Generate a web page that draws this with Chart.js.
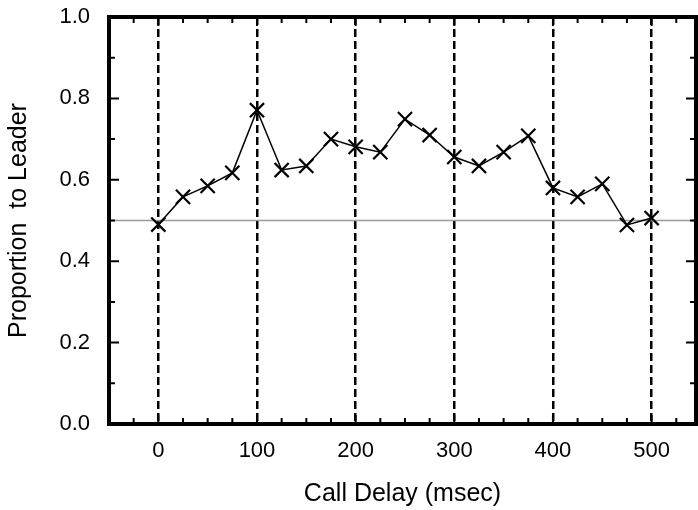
<!DOCTYPE html>
<html>
<head>
<meta charset="utf-8">
<title>Proportion to Leader vs Call Delay</title>
<script src="https://cdn.jsdelivr.net/npm/chart.js@4.4.1/dist/chart.umd.min.js"></script>
<style>
  html, body { margin: 0; padding: 0; background: #fff; overflow: hidden; }
  #wrap { width: 698px; height: 510px; position: relative; }
  #chart { display: block; }
</style>
</head>
<body>
<div id="wrap"><canvas id="chart" width="698" height="510"></canvas></div>
<script>
// values
const callDelay = [0, 25, 50, 75, 100, 125, 150, 175, 200, 225, 250, 275, 300, 325, 350, 375, 400, 425, 450, 475, 500];
const proportion = [0.49, 0.558, 0.585, 0.617, 0.771, 0.624, 0.634, 0.700, 0.681, 0.668, 0.749, 0.710, 0.656, 0.634, 0.668, 0.708, 0.580, 0.558, 0.590, 0.489, 0.506];
const xTickLabels = [0, 100, 200, 300, 400, 500];
const yTickLabels = [0.0, 0.2, 0.4, 0.6, 0.8, 1.0];
const chanceLevel = 0.5;

const xMin = -50, xMax = 545;

// gray reference line at 0.5, drawn under the data
const refLine = {
    id: 'refLine',
    beforeDatasetsDraw(chart) {
        const { ctx, chartArea: a, scales: { y } } = chart;
        const py = y.getPixelForValue(chanceLevel);
        ctx.save();
        ctx.strokeStyle = '#9a9a9a';
        ctx.lineWidth = 1.5;
        ctx.beginPath();
        ctx.moveTo(a.left, py);
        ctx.lineTo(a.right, py);
        ctx.stroke();
        ctx.restore();
    }
};

// heavy frame with inward ticks on all four sides
const frame = {
    id: 'frame',
    afterDraw(chart) {
        const { ctx, chartArea: a, scales: { x, y } } = chart;
        ctx.save();
        ctx.strokeStyle = '#000';
        ctx.lineWidth = 2;
        ctx.beginPath();
        for (let v = xMin + 25; v < xMax; v += 25) {
            const px = x.getPixelForValue(v);
            const len = v % 100 === 0 ? 9 : 6;
            ctx.moveTo(px, a.bottom); ctx.lineTo(px, a.bottom - len);
            ctx.moveTo(px, a.top); ctx.lineTo(px, a.top + len);
        }
        for (let i = 1; i < 10; i++) {
            const py = y.getPixelForValue(i / 10);
            const len = i % 2 === 0 ? 10 : 6;
            ctx.moveTo(a.left, py); ctx.lineTo(a.left + len, py);
            ctx.moveTo(a.right, py); ctx.lineTo(a.right - len, py);
        }
        ctx.stroke();
        ctx.lineWidth = 4;
        ctx.strokeRect(a.left, a.top, a.right - a.left, a.bottom - a.top);
        ctx.restore();
    }
};

Chart.defaults.color = '#000';
Chart.defaults.font.family = '"Liberation Sans", Arial, Helvetica, sans-serif';

new Chart(document.getElementById('chart'), {
    type: 'line',
    data: {
        datasets: [{
            data: callDelay.map((d, i) => ({ x: d, y: proportion[i] })),
            borderColor: '#000',
            borderWidth: 1.5,
            pointStyle: 'crossRot',
            pointRadius: 10,
            pointBorderWidth: 2.2,
            pointBorderColor: '#000',
            tension: 0,
            fill: false
        }]
    },
    options: {
        responsive: false,
        animation: false,
        layout: { autoPadding: false, padding: { top: 17, right: 2, left: 0, bottom: 0 } },
        plugins: { legend: { display: false }, tooltip: { enabled: false } },
        scales: {
            x: {
                type: 'linear',
                min: xMin,
                max: xMax,
                afterFit(scale) {
                    scale.height = 86;
                    scale.paddingLeft = 0;
                    scale.paddingRight = 0;
                },
                border: { display: false, dash: [8, 4] },
                grid: {
                    drawTicks: false,
                    lineWidth: 2.5,
                    color: c => xTickLabels.includes(c.tick.value) ? '#000' : 'transparent'
                },
                ticks: {
                    stepSize: 25,
                    autoSkip: false,
                    padding: 14,
                    maxRotation: 0,
                    font: { size: 22 },
                    callback: v => xTickLabels.includes(v) ? String(v) : ''
                },
                title: {
                    display: true,
                    text: 'Call Delay (msec)',
                    font: { size: 25 },
                    padding: { top: 0, bottom: 1 }
                }
            },
            y: {
                min: 0,
                max: 1,
                afterFit(scale) {
                    scale.width = 109;
                    scale.paddingTop = 0;
                    scale.paddingBottom = 0;
                },
                border: { display: false },
                grid: { display: false, drawTicks: false },
                ticks: {
                    stepSize: 0.2,
                    padding: 19,
                    font: { size: 22 },
                    callback: v => yTickLabels.some(t => Math.abs(t - v) < 1e-6) ? v.toFixed(1) : ''
                },
                title: {
                    display: true,
                    text: 'Proportion  to Leader',
                    font: { size: 25 },
                    padding: { top: 4, bottom: 0 }
                }
            }
        }
    },
    plugins: [refLine, frame]
});
</script>
</body>
</html>
